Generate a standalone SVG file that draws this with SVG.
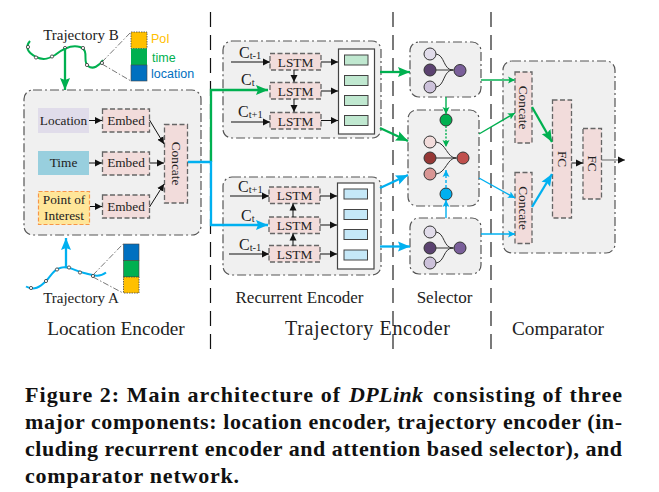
<svg xmlns="http://www.w3.org/2000/svg" width="659" height="492" viewBox="0 0 659 492">
<style>
text{font-family:"Liberation Serif","Times New Roman",serif;fill:#222}
.panel{fill:#f0f0f0;stroke:#555;stroke-width:1.2;stroke-dasharray:9 3 2 3}
.pink{fill:#f2dcdb;stroke:#666;stroke-width:1.3;stroke-dasharray:5 2.5}
.lab{font-size:13.300px;text-anchor:middle}
.big{font-size:15px}
.head{font-size:19.300px;text-anchor:middle}
.sub{font-size:17px;text-anchor:middle}
.cap{font-size:22px;font-weight:bold;fill:#111}
.sans{font-family:"Liberation Sans",Arial,sans-serif;font-size:12.500px}
.c{font-size:16px}
.s{font-size:10.500px}
.sep{fill:none;stroke-dasharray:15 8}
.bk{fill:none;stroke:#111;stroke-width:1;marker-end:url(#mk)}
.gn{fill:none;stroke:#00b050;stroke-width:2.300;marker-end:url(#mg)}
.bl{fill:none;stroke:#00b0f0;stroke-width:2.300;marker-end:url(#mb)}
.gt{fill:none;stroke:#00b050;stroke-width:1.400;marker-end:url(#mgs)}
.bt{fill:none;stroke:#00b0f0;stroke-width:1.400;marker-end:url(#mbs)}
.dd{fill:none;stroke:#555;stroke-width:.8;stroke-dasharray:6 2 1.5 2}
.stem{fill:none;stroke:#333;stroke-width:1}
.n{stroke:#333;stroke-width:1}
.cellg{fill:#c0e8d0;stroke:#444;stroke-width:1}
.cellb{fill:#c5e8f8;stroke:#444;stroke-width:1}
.wh{fill:#fff;stroke:#444;stroke-width:1.2}
.pt{fill:#fff;stroke:#333;stroke-width:.8}
</style>
<defs>
<marker id="mk" markerUnits="userSpaceOnUse" markerWidth="8" markerHeight="8" refX="7" refY="4" orient="auto"><path d="M0,.5L7,4L0,7.5Z" fill="#111"/></marker>
<marker id="mg" markerUnits="userSpaceOnUse" markerWidth="13" markerHeight="13" refX="12" refY="6.500" orient="auto"><path d="M0,1.500L12,6.500L0,11.500L2,6.500Z" fill="#00b050"/></marker>
<marker id="mb" markerUnits="userSpaceOnUse" markerWidth="13" markerHeight="13" refX="12" refY="6.500" orient="auto"><path d="M0,1.500L12,6.500L0,11.500L2,6.500Z" fill="#00b0f0"/></marker>
<marker id="mgs" markerUnits="userSpaceOnUse" markerWidth="8" markerHeight="8" refX="7" refY="4" orient="auto"><path d="M0,.5L7,4L0,7.5L1.5,4Z" fill="#00b050"/></marker>
<marker id="mbs" markerUnits="userSpaceOnUse" markerWidth="8" markerHeight="8" refX="7" refY="4" orient="auto"><path d="M0,.5L7,4L0,7.5L1.5,4Z" fill="#00b0f0"/></marker>
</defs>
<rect width="659" height="492" fill="#fff"/>

<g id="separators">
<path class="sep" stroke="#111" stroke-width="1.2" d="M210.500,12V352"/>
<path class="sep" stroke="#222" stroke-width="1.2" d="M393,12V352"/>
<path class="sep" stroke="#333" stroke-width="1.3" d="M491,12V352"/>
</g>

<g id="location-encoder">
<rect class="panel" x="24" y="90" width="177" height="145" rx="9"/>
<rect x="38" y="108" width="51" height="25" fill="#e0dcea"/>
<text class="lab" x="63.500" y="125">Location</text>
<rect x="38" y="151" width="51" height="24" fill="#98cfde"/>
<text class="lab" x="63.500" y="167">Time</text>
<rect x="38.500" y="191.500" width="51" height="33" fill="#ffe699" stroke="#f79646" stroke-width="1.2" stroke-dasharray="4 2"/>
<text class="lab" x="64" y="204">Point of</text>
<text class="lab" x="64" y="220">Interest</text>
<rect class="pink" x="102.500" y="109" width="47" height="23"/>
<text class="lab" x="126" y="125">Embed</text>
<rect class="pink" x="102.500" y="152" width="47" height="23"/>
<text class="lab" x="126" y="167">Embed</text>
<rect class="pink" x="102.500" y="195" width="47" height="23"/>
<text class="lab" x="126" y="211">Embed</text>
<rect class="pink" x="164.500" y="124.500" width="23" height="78.500"/>
<text class="lab" transform="translate(171.500,163.500) rotate(90)">Concate</text>
</g>

<g id="trajectory-b">
<text class="big" x="81" y="40" text-anchor="middle">Trajectory B</text>
<path d="M30,41C25,47 27,52 36,57C44,61 50,58 55,55C60,51 70,44 80,47C90,50 82,62 88,66C93,70 99,66 103,60" fill="none" stroke="#00b050" stroke-width="2"/>
<g class="pt"><circle cx="28" cy="47" r="1.600"/><circle cx="36" cy="57.500" r="1.600"/><circle cx="52" cy="56.500" r="1.600"/><circle cx="65" cy="48" r="1.600"/><circle cx="83" cy="48" r="1.600"/><circle cx="87" cy="65" r="1.600"/><circle cx="102" cy="63" r="1.600"/></g>
<rect x="131" y="32" width="16" height="16.500" fill="#ffc000" stroke="#444" stroke-width=".8" stroke-dasharray="1.500 1"/>
<rect x="131" y="48.500" width="16" height="16.500" fill="#00b050"/>
<rect x="131" y="65" width="16" height="16" fill="#0070c0" stroke="#444" stroke-width=".6"/>
<text class="sans" x="151" y="43" style="fill:#ffc000">PoI</text>
<text class="sans" x="152" y="62" style="fill:#00b050">time</text>
<text class="sans" x="151" y="78" style="fill:#0070c0">location</text>
</g>

<g id="trajectory-a">
<path d="M26,286.500C34,291 40,287 46,281C51,276 53,270 60,268C68,265 75,271 84,273C92,275 99,278 106,272.500" fill="none" stroke="#00b0f0" stroke-width="2"/>
<g class="pt"><circle cx="31" cy="288" r="1.600"/><circle cx="46" cy="281" r="1.600"/><circle cx="57" cy="269.500" r="1.600"/><circle cx="69" cy="267.500" r="1.600"/><circle cx="80" cy="272.500" r="1.600"/><circle cx="93" cy="276" r="1.600"/></g>
<rect x="123.500" y="244" width="15.500" height="16.500" fill="#0070c0" stroke="#444" stroke-width=".6"/>
<rect x="123.500" y="260.500" width="15.500" height="16.500" fill="#00b050" stroke="#444" stroke-width=".6"/>
<rect x="123.500" y="277" width="15.500" height="16" fill="#ffc000" stroke="#444" stroke-width=".8" stroke-dasharray="1.500 1"/>
<text class="big" x="81" y="303" text-anchor="middle">Trajectory A</text>
</g>

<g id="recurrent-upper">
<rect class="panel" x="223" y="41" width="158" height="97" rx="9"/>
<rect class="pink" x="270" y="53.500" width="51" height="16.500"/><text class="lab" x="295.500" y="66.500">LSTM</text>
<rect class="pink" x="270" y="82.500" width="51" height="16.500"/><text class="lab" x="295.500" y="95.500">LSTM</text>
<rect class="pink" x="270" y="112.500" width="51" height="16.500"/><text class="lab" x="295.500" y="125.500">LSTM</text>
<rect class="wh" x="338.500" y="49" width="36" height="85"/>
<rect class="cellg" x="344.500" y="55" width="23.500" height="10"/>
<rect class="cellg" x="344.500" y="75.500" width="23.500" height="10"/>
<rect class="cellg" x="344.500" y="95.500" width="23.500" height="10"/>
<rect class="cellg" x="344.500" y="115.500" width="23.500" height="10"/>
<text class="c" x="239" y="58">C<tspan class="s" dy="1">t-1</tspan></text>
<text class="c" x="241" y="85">C<tspan class="s" dy="1">t</tspan></text>
<text class="c" x="238" y="117">C<tspan class="s" dy="1">t+1</tspan></text>
</g>

<g id="recurrent-lower">
<rect class="panel" x="223" y="177" width="158" height="98" rx="9"/>
<rect class="pink" x="269" y="187" width="51" height="16.500"/><text class="lab" x="294.500" y="200">LSTM</text>
<rect class="pink" x="269" y="217" width="51" height="16.500"/><text class="lab" x="294.500" y="230">LSTM</text>
<rect class="pink" x="269" y="245.500" width="51" height="16.500"/><text class="lab" x="294.500" y="258.500">LSTM</text>
<rect class="wh" x="337.500" y="183" width="36.500" height="86"/>
<rect class="cellb" x="344" y="189" width="23.500" height="10"/>
<rect class="cellb" x="344" y="209.500" width="23.500" height="10"/>
<rect class="cellb" x="344" y="229.500" width="23.500" height="10"/>
<rect class="cellb" x="344" y="250" width="23.500" height="10"/>
<text class="c" x="238" y="192">C<tspan class="s" dy="1">t+1</tspan></text>
<text class="c" x="241" y="221">C<tspan class="s" dy="1">t</tspan></text>
<text class="c" x="239" y="250">C<tspan class="s" dy="1">t-1</tspan></text>
</g>

<g id="selector-top">
<rect class="panel" x="410" y="42" width="71" height="55" rx="9"/>
<path class="stem" d="M436,54C445,55 443,70 453,70M436,70H454M436,87C445,86 443,70 453,70"/>
<circle class="n" cx="430" cy="54" r="6" fill="#e1dcea"/><circle class="n" cx="430" cy="70" r="6" fill="#5b4270"/><circle class="n" cx="430" cy="87" r="6" fill="#ccc1da"/><circle class="n" cx="460" cy="70.500" r="6" fill="#7a5f9a"/>
</g>

<g id="selector-mid">
<rect class="panel" x="408" y="110" width="71" height="96" rx="9"/>
<path class="stem" d="M436,142C446,143 447,158 456,158M436,158H457M436,174C446,173 447,158 456,158"/>
<circle class="n" cx="430" cy="142" r="6" fill="#f2dcdb"/><circle class="n" cx="430" cy="158" r="6" fill="#953735"/><circle class="n" cx="430" cy="174" r="6" fill="#d99694"/><circle class="n" cx="463" cy="158" r="6" fill="#c0504d"/>
<circle class="n" cx="446" cy="120" r="6" fill="#00b050"/>
<circle class="n" cx="446" cy="194" r="6" fill="#00b0f0"/>
</g>

<g id="selector-bottom">
<rect class="panel" x="410" y="218" width="71" height="56" rx="9"/>
<path class="stem" d="M436,232C445,233 443,248 453,248M436,248H454M436,263C445,262 443,248 453,248"/>
<circle class="n" cx="430" cy="232" r="6" fill="#e1dcea"/><circle class="n" cx="430" cy="248" r="6" fill="#5b4270"/><circle class="n" cx="430" cy="263" r="6" fill="#ccc1da"/><circle class="n" cx="460" cy="248" r="6" fill="#7a5f9a"/>
</g>

<g id="comparator">
<rect class="panel" x="503" y="61" width="112" height="192" rx="9"/>
<rect class="pink" x="515" y="72" width="17" height="71"/><text class="lab" transform="translate(519,107.500) rotate(90)">Concate</text>
<rect class="pink" x="515" y="172.500" width="17" height="71"/><text class="lab" transform="translate(519,208) rotate(90)">Concate</text>
<rect class="pink" x="552.500" y="100" width="19" height="118"/><text class="lab" transform="translate(558,159) rotate(90)">FC</text>
<rect class="pink" x="583" y="128.500" width="18.500" height="70.500"/><text class="lab" transform="translate(588,163.500) rotate(90)">FC</text>
</g>

<g id="connectors">
<path class="gn" d="M65,48V90"/>
<path class="bl" d="M66,267V238"/>
<path class="dd" d="M102,62L131,32M102,64L131,81M93,275L123,244M93,277L123,293"/>
<path class="bk" d="M89,120.500H102"/><path class="bk" d="M89,163H102"/><path class="bk" d="M90,206.500H102"/>
<path class="bk" d="M149.500,120L164,144"/><path class="bk" d="M149.500,163H164"/><path class="bk" d="M149.500,207L164,184"/>
<path d="M211,162V90H268" class="gn"/>
<path d="M188,162H211V225H268" class="bl"/>
<path class="bk" d="M231,62H270"/><path class="bk" d="M231,122H270"/><path class="bk" d="M230,196H269"/><path class="bk" d="M229,254H269"/>
<path class="bk" d="M321,62H338"/><path class="bk" d="M321,91H338"/><path class="bk" d="M321,120.500H338"/>
<path class="bk" d="M320,196H337"/><path class="bk" d="M320,225H337"/><path class="bk" d="M320,254H337"/>
<path class="bk" d="M294,70V82"/><path class="bk" d="M294,99V112"/><path class="bk" d="M293,217V203.500"/><path class="bk" d="M293,245.500V233.500"/>
<path class="gn" d="M380,72H410"/><path class="gn" d="M380,128L408,141"/>
<path class="bl" d="M380,188L408,175"/><path class="bl" d="M380,246.500H410"/>
<path class="gt" d="M446,97V114"/><path class="gt" d="M446,126V147" stroke-dasharray="2 1.500"/>
<path class="bt" d="M446,218V200"/><path class="bt" d="M446,188V170" stroke-dasharray="3 2"/>
<path class="gt" d="M481,80H515" style="stroke:#45c47e;stroke-width:1.800"/><path class="gt" d="M479,134L515,113"/>
<path class="bt" d="M479,178L515,198"/><path class="bt" d="M481,234H515"/>
<path class="gn" d="M532,107L552,142"/><path class="bl" d="M532,207L552,174"/>
<path class="bk" d="M571.500,163H583"/><path class="bk" d="M601.500,160H625" style="stroke:#666"/>
</g>

<g id="labels">
<text class="head" x="116" y="335">Location Encoder</text>
<text class="sub" x="299.500" y="303">Recurrent Encoder</text>
<text class="sub" x="444.500" y="303">Selector</text>
<text class="head" x="285" y="335" style="font-size:20px;text-anchor:start" textLength="165">Trajectory Encoder</text>
<text class="head" x="558" y="335">Comparator</text>
</g>

<g id="caption">
<text class="cap" x="25" y="402" textLength="315">Figure 2: Main architecture of</text>
<text class="cap" x="349" y="402" textLength="74" font-style="italic">DPLink</text>
<text class="cap" x="433" y="402" textLength="189">consisting of three</text>
<text class="cap" x="25" y="429" textLength="597">major components: location encoder, trajectory encoder (in-</text>
<text class="cap" x="25" y="456" textLength="597">cluding recurrent encoder and attention based selector), and</text>
<text class="cap" x="25" y="483" textLength="214">comparator network.</text>
</g>
</svg>
